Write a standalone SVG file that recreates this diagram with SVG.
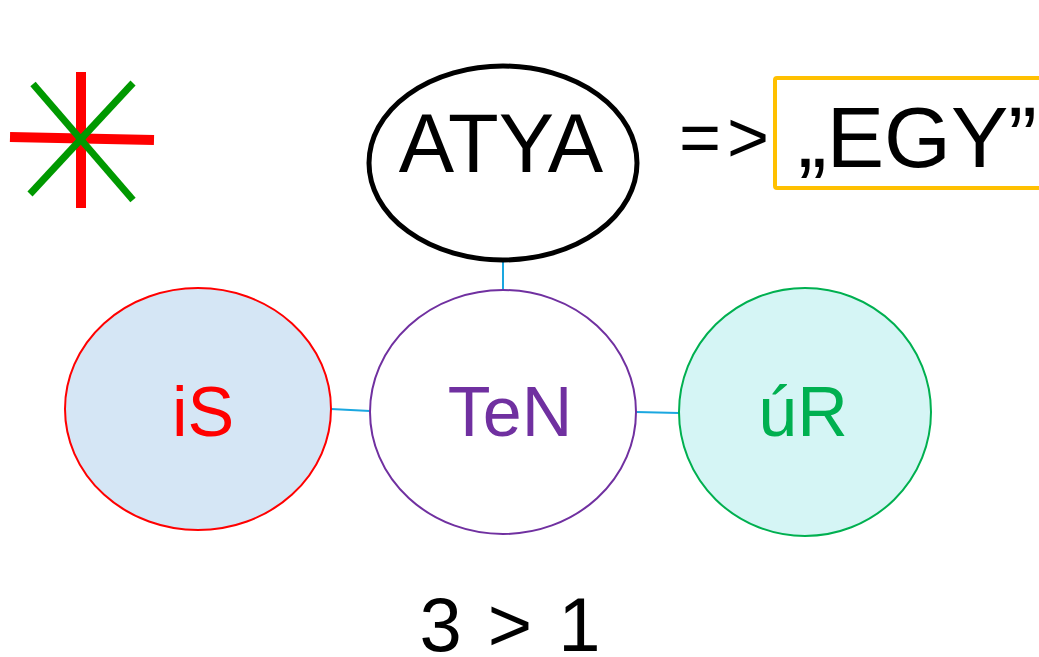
<svg xmlns="http://www.w3.org/2000/svg" width="1039" height="657" viewBox="0 0 1039 657">
<style>
text { font-family: "Liberation Sans", Arial, sans-serif; }
.conn { stroke: #1AA7E0; stroke-width: 2; fill: none; }
</style>
<rect width="1039" height="657" fill="#fff"/>
<g id="asterisk">
<line x1="81" y1="72" x2="81" y2="208" stroke="#FF0000" stroke-width="10"/>
<line x1="10" y1="137" x2="154" y2="140" stroke="#FF0000" stroke-width="10"/>
<line x1="33" y1="84" x2="133" y2="200" stroke="#009900" stroke-width="7"/>
<line x1="133" y1="83" x2="30" y2="194" stroke="#009900" stroke-width="7"/>
</g>
<g id="connectors">
<line class="conn" x1="503" y1="260" x2="503" y2="290"/>
<line class="conn" x1="331" y1="409" x2="370" y2="411"/>
<line class="conn" x1="636" y1="412" x2="679" y2="413"/>
</g>
<g id="atya">
<ellipse cx="503" cy="163" rx="134" ry="97" fill="#fff" stroke="#000" stroke-width="5"/>
<text x="501" y="172" font-size="83" text-anchor="middle">ATYA</text>
</g>
<g id="arrow-text">
<text x="679" y="162" font-size="72" letter-spacing="6">=&gt;</text>
</g>
<g id="egy">
<rect x="775" y="78" width="275" height="110" rx="2" fill="#fff" stroke="#FFC000" stroke-width="4"/>
<text x="798" y="167" font-size="86">„EGY”</text>
</g>
<g id="is">
<ellipse cx="198" cy="409" rx="133" ry="121" fill="#D5E6F5" stroke="#FF0000" stroke-width="2"/>
<text x="203" y="436" font-size="70" fill="#FF0000" text-anchor="middle">iS</text>
</g>
<g id="ten">
<ellipse cx="503" cy="412" rx="133" ry="122" fill="#fff" stroke="#7030A0" stroke-width="2"/>
<text x="510" y="436" font-size="70" fill="#7030A0" text-anchor="middle">TeN</text>
</g>
<g id="ur">
<ellipse cx="805" cy="412" rx="126" ry="124" fill="#D5F5F5" stroke="#00B050" stroke-width="2"/>
<text x="803" y="436" font-size="70" fill="#00B050" text-anchor="middle">úR</text>
</g>
<g id="caption">
<text x="510" y="651" font-size="76" text-anchor="middle" word-spacing="5">3 &gt; 1</text>
</g>
</svg>
